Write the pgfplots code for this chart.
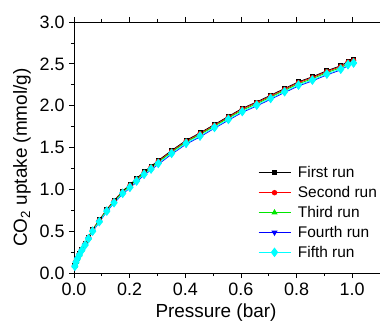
\documentclass[border=0pt]{standalone}
\usepackage{fontspec}
\setmainfont{Liberation Sans}
\usepackage{pgfplots}
\pgfplotsset{compat=1.18}
\usepackage{pgfplotstable}
\pgfplotstableread{
x c k r g b
0.003 0.08 0.09 0.09 0.085 0.07
0.007 0.13 0.14 0.14 0.135 0.12
0.012 0.17 0.18 0.18 0.175 0.165
0.019 0.215 0.23 0.225 0.22 0.21
0.028 0.27 0.285 0.28 0.28 0.265
0.040 0.335 0.355 0.35 0.345 0.33
0.052 0.41 0.43 0.425 0.42 0.405
0.067 0.50 0.52 0.515 0.51 0.495
0.091 0.613 0.635 0.63 0.625 0.608
0.118 0.74 0.76 0.755 0.75 0.735
0.144 0.84 0.865 0.86 0.85 0.835
0.175 0.952 0.98 0.97 0.965 0.945
0.201 1.024 1.055 1.045 1.04 1.016
0.225 1.10 1.13 1.12 1.115 1.09
0.252 1.18 1.21 1.20 1.195 1.17
0.277 1.243 1.275 1.265 1.26 1.233
0.303 1.31 1.345 1.335 1.325 1.30
0.351 1.43 1.465 1.455 1.445 1.42
0.403 1.55 1.585 1.575 1.565 1.54
0.453 1.637 1.675 1.665 1.655 1.627
0.505 1.74 1.775 1.765 1.755 1.73
0.555 1.836 1.872 1.862 1.852 1.826
0.605 1.93 1.968 1.96 1.946 1.92
0.657 2.007 2.045 2.035 2.023 1.997
0.707 2.087 2.125 2.115 2.103 2.077
0.757 2.167 2.205 2.195 2.183 2.157
0.807 2.246 2.285 2.275 2.262 2.236
0.857 2.306 2.345 2.335 2.322 2.296
0.909 2.378 2.418 2.408 2.395 2.368
0.959 2.437 2.477 2.467 2.454 2.427
0.985 2.49 2.53 2.52 2.507 2.48
1.005 2.51 2.55 2.54 2.527 2.50
}\data
\definecolor{cgreen}{RGB}{0,230,0}
\definecolor{cblue}{RGB}{0,0,255}
\definecolor{ccyan}{RGB}{0,255,255}
\definecolor{cred}{RGB}{255,0,0}
\begin{document}
\begin{tikzpicture}
\begin{axis}[
  scale only axis,
  width=306bp, height=251bp,
  xmin=0, xmax=1.1, ymin=0, ymax=3.0,
  axis x line*=box, axis y line*=left,
  axis line style={line width=0.8bp},
  tick align=outside,
  major tick length=5bp, minor tick length=3bp,
  every tick/.style={line width=0.8bp, black},
  xtick={0,0.2,0.4,0.6,0.8,1.0},
  minor xtick={0.1,0.3,0.5,0.7,0.9},
  ytick={0,0.5,1.0,1.5,2.0,2.5,3.0},
  minor ytick={0.25,0.75,1.25,1.75,2.25,2.75},
  /pgf/number format/assume math mode=true,
  /pgf/number format/fixed, /pgf/number format/fixed zerofill,
  /pgf/number format/precision=1,
  tick label style={font=\fontsize{18}{20}\selectfont},
  xticklabel style={yshift=-1bp},
  yticklabel style={xshift=-1bp},
  label style={font=\fontsize{19}{21}\selectfont},
  xlabel={Pressure (bar)},
  ylabel={CO\textsubscript{2} uptake (mmol/g)},
  xlabel style={at={(axis description cs:0.464,-0.179)}, anchor=base},
  ylabel style={at={(axis description cs:-0.154,0.46)}, anchor=base, rotate=0},
  clip=false,
  legend cell align=left,
  legend style={at={(rel axis cs:0.601,0.433)}, anchor=north west, draw=none, fill=none,
    font=\fontsize{15.5}{17}\selectfont, row sep=3.2bp, inner sep=0pt},
  legend image code/.code={\draw[mark repeat=2,mark phase=2] plot coordinates {(0bp,0bp) (16bp,0bp) (32bp,0bp)};\path (37bp,0bp);},
  every axis plot/.append style={line width=0.8bp},
]
\addplot[black, mark=square*, mark size=2bp, mark options={solid}] table[x=x,y=k] {\data};
\addlegendentry{First run}
\addplot[cred, mark=*, mark size=2.3bp, mark options={solid}] table[x=x,y=r] {\data};
\addlegendentry{Second run}
\addplot[cgreen, mark=triangle*, mark size=2.8bp, mark options={solid}] table[x=x,y=g] {\data};
\addlegendentry{Third run}
\addplot[cblue, mark=triangle*, mark size=2.8bp, mark options={solid, rotate=180}] table[x=x,y=b] {\data};
\addlegendentry{Fourth run}
\addplot[ccyan, mark=diamond*, mark size=4.2bp, mark options={solid}] table[x=x,y=c] {\data};
\addlegendentry{Fifth run}
\coordinate (sw) at (rel axis cs:0,0);
\coordinate (ne) at (rel axis cs:1,1);
\end{axis}
\pgfresetboundingbox
\path[use as bounding box] ([shift={(-74bp,-50bp)}]sw) rectangle ([shift={(2bp,22bp)}]ne);
\end{tikzpicture}
\end{document}
